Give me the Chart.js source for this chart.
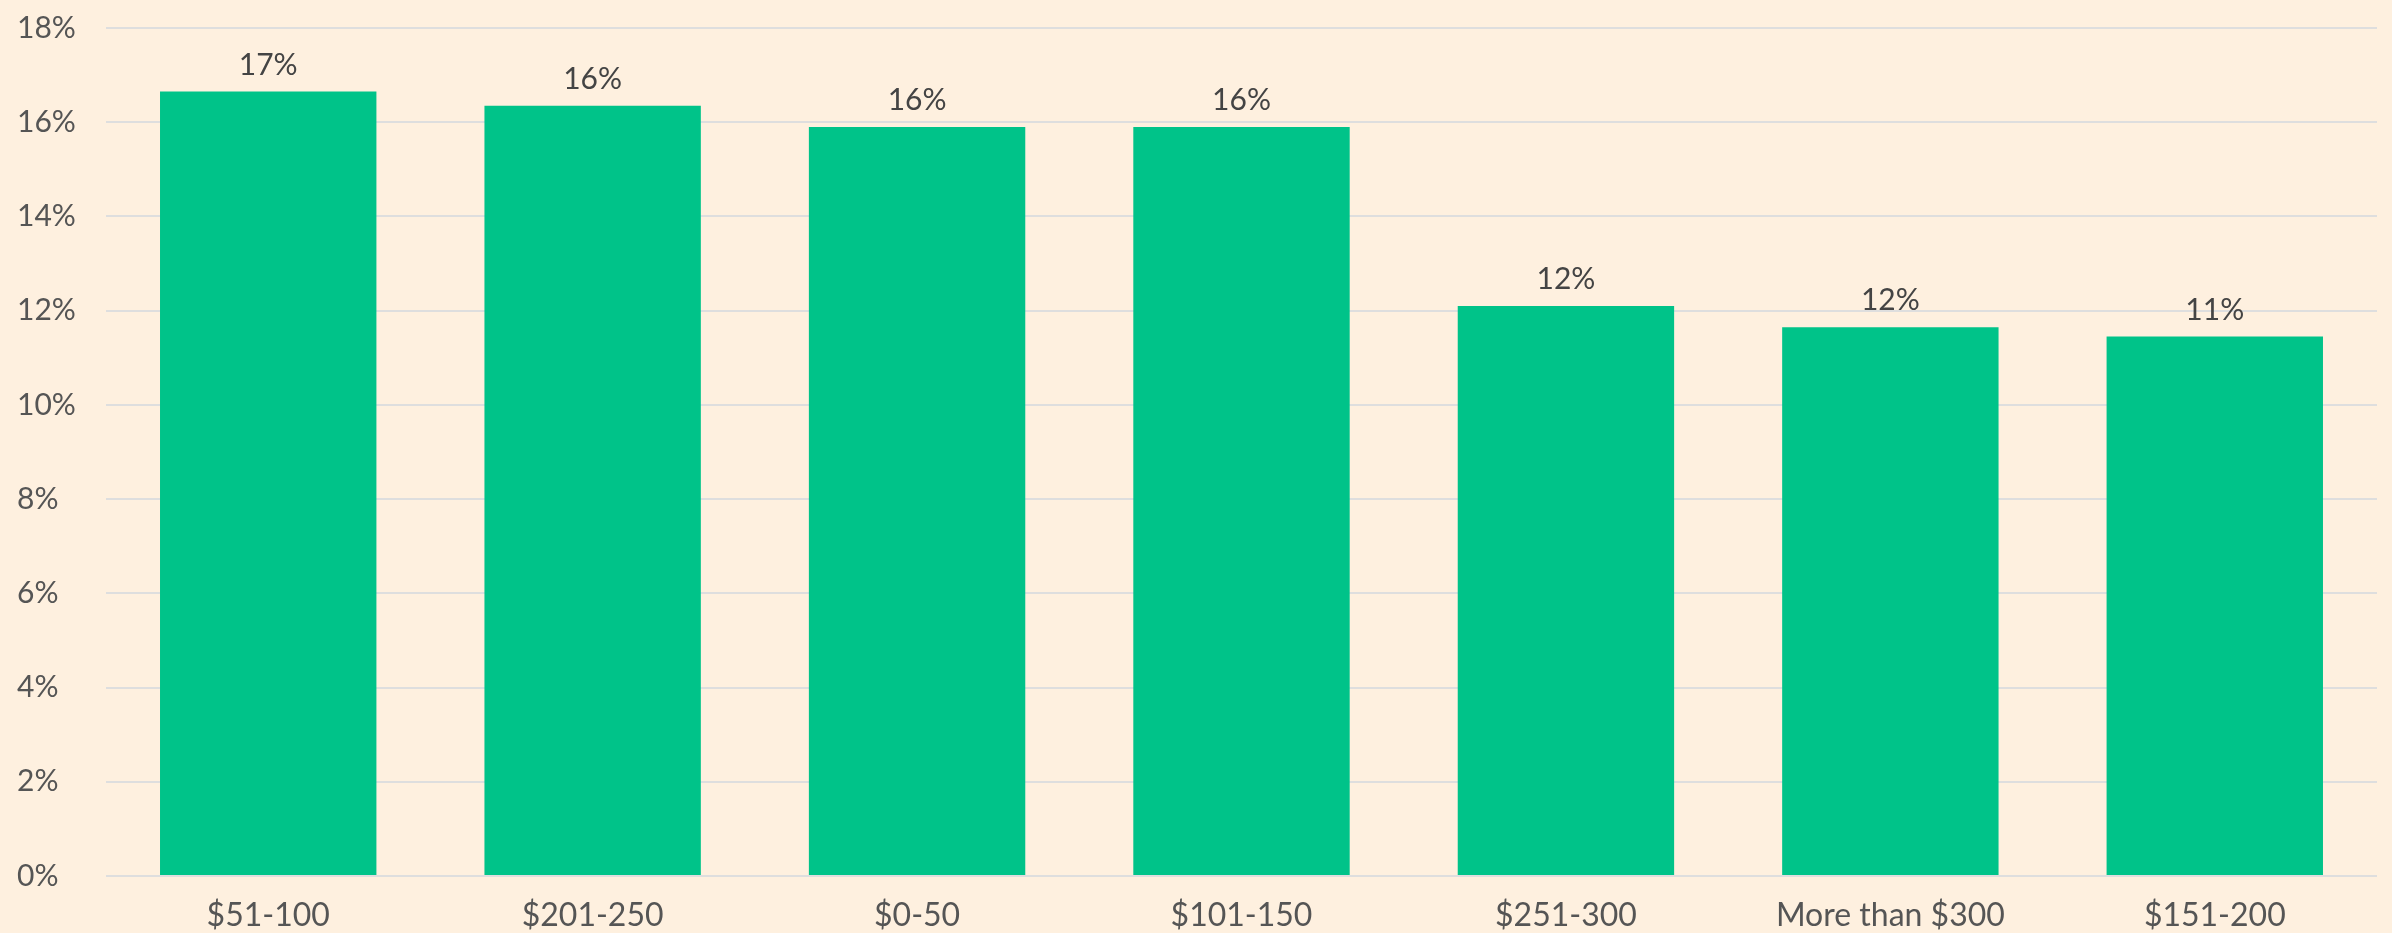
<!DOCTYPE html>
<html lang="en">
<head>
  <meta charset="UTF-8">
  <title>Share by price range</title>
  <script src="https://cdn.jsdelivr.net/npm/chart.js"></script>
  <style>
    html, body {
      margin: 0;
      padding: 0;
      background-color: #fef0df;
    }
    canvas {
      display: block;
    }
  </style>
</head>
<body>

  <canvas id="priceChart" width="2392" height="933"></canvas>

  <script>
    const categories = ['$51-100', '$201-250', '$0-50', '$101-150', '$251-300', 'More than $300', '$151-200'];
    const shares = [16.65, 16.35, 15.9, 15.9, 12.1, 11.65, 11.45];
    const yTicks = [0, 2, 4, 6, 8, 10, 12, 14, 16, 18];

    const fontFamily = 'Lato, "Open Sans", sans-serif';

    // draws the rounded value above each bar
    const valueLabels = {
      id: 'valueLabels',
      afterDatasetsDraw(chart) {
        const ctx = chart.ctx;
        const meta = chart.getDatasetMeta(0);
        ctx.save();
        ctx.font = '30px ' + fontFamily;
        ctx.fillStyle = '#444444';
        ctx.textAlign = 'center';
        ctx.textBaseline = 'alphabetic';
        meta.data.forEach((bar, i) => {
          const v = chart.data.datasets[0].data[i];
          ctx.fillText(Math.round(v) + '%', bar.x, bar.y - 17);
        });
        ctx.restore();
      }
    };

    const ctx = document.getElementById('priceChart').getContext('2d');
    new Chart(ctx, {
      type: 'bar',
      data: {
        labels: categories,
        datasets: [{
          data: shares,
          backgroundColor: '#00c389',
          borderWidth: 0,
          barPercentage: 0.667,
          categoryPercentage: 1
        }]
      },
      options: {
        responsive: false,
        devicePixelRatio: 1,
        animation: false,
        layout: {
          padding: { top: 24, right: 15, bottom: 0, left: 17 }
        },
        plugins: {
          legend: { display: false },
          tooltip: { enabled: false }
        },
        scales: {
          x: {
            afterFit(scale) {
              scale.height = 57;
            },
            grid: { display: false, drawTicks: false },
            border: { display: false },
            ticks: {
              color: '#555555',
              font: { family: fontFamily, size: 32 },
              padding: 20,
              maxRotation: 0
            }
          },
          y: {
            min: 0,
            max: 18,
            afterBuildTicks(scale) {
              scale.ticks = yTicks.map(v => ({ value: v }));
            },
            afterFit(scale) {
              scale.width = 89;
            },
            grid: {
              color: '#dedede',
              lineWidth: 2,
              drawTicks: false
            },
            border: { display: false },
            ticks: {
              color: '#555555',
              font: { family: fontFamily, size: 30 },
              crossAlign: 'far',
              padding: 10,
              callback: v => v + '%'
            }
          }
        }
      },
      plugins: [valueLabels]
    });
  </script>

</body>
</html>
